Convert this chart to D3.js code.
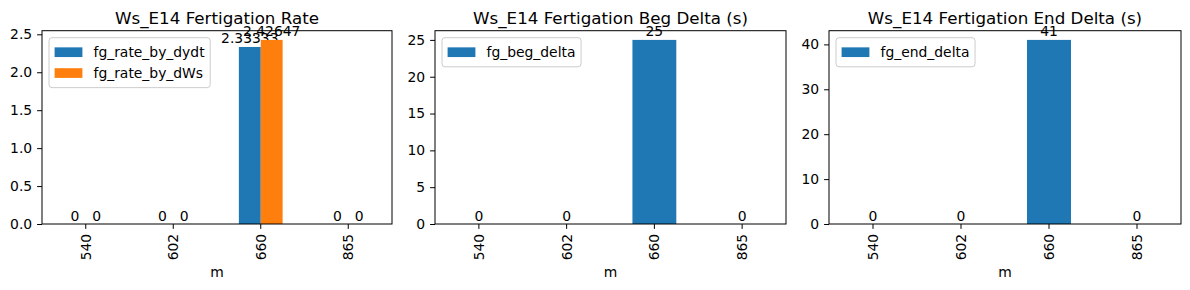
<!DOCTYPE html>
<html>
<head>
<meta charset="utf-8">
<script src="https://cdn.jsdelivr.net/npm/d3@7"></script>
<style>
  body { margin: 0; background: #fff; }
  svg { display: block; font-family: "DejaVu Sans", sans-serif; }
</style>
</head>
<body>
<div id="chart"></div>
<script>
const categories = ['540', '602', '660', '865'];
const fgRateByDydt = [0, 0, 2.33333, 0];
const fgRateByDWs = [0, 0, 2.42647, 0];
const fgBegDelta = [0, 0, 25, 0];
const fgEndDelta = [0, 0, 41, 0];
const rateTicks = [0, 0.5, 1.0, 1.5, 2.0, 2.5];
const begTicks = [0, 5, 10, 15, 20, 25];
const endTicks = [0, 10, 20, 30, 40];

const width = 1190;
const height = 290;
const fontSize = 13.9;
const colors = ['#1f77b4', '#ff7f0e'];

const panels = [
  {
    title: 'Ws_E14 Fertigation Rate',
    left: 42, right: 392,
    series: [
      { name: 'fg_rate_by_dydt', values: fgRateByDydt },
      { name: 'fg_rate_by_dWs', values: fgRateByDWs }
    ],
    ticks: rateTicks,
    tickFormat: d3.format('.1f')
  },
  {
    title: 'Ws_E14 Fertigation Beg Delta (s)',
    left: 435, right: 786,
    series: [{ name: 'fg_beg_delta', values: fgBegDelta }],
    ticks: begTicks,
    tickFormat: d3.format('d')
  },
  {
    title: 'Ws_E14 Fertigation End Delta (s)',
    left: 829, right: 1181,
    series: [{ name: 'fg_end_delta', values: fgEndDelta }],
    ticks: endTicks,
    tickFormat: d3.format('d')
  }
];

const plotTop = 30.7;
const plotBottom = 224;

const svg = d3.select('#chart')
  .append('svg')
  .attr('width', width)
  .attr('height', height);

const labelFmt = d3.format('.6~g');

panels.forEach((p) => {
  const maxVal = d3.max(p.series, (s) => d3.max(s.values));
  const x = d3.scaleBand()
    .domain(categories)
    .range([p.left, p.right])
    .paddingInner(0.5)
    .paddingOuter(0.25);
  const xSub = d3.scaleBand()
    .domain(p.series.map((s) => s.name))
    .range([0, x.bandwidth()]);
  const y = d3.scaleLinear()
    .domain([0, maxVal * 1.05])
    .range([plotBottom, plotTop]);

  const g = svg.append('g');

  p.series.forEach((s, si) => {
    g.selectAll(null)
      .data(s.values)
      .join('rect')
      .attr('x', (d, i) => x(categories[i]) + xSub(s.name))
      .attr('y', (d) => y(d))
      .attr('width', xSub.bandwidth())
      .attr('height', (d) => plotBottom - y(d))
      .attr('fill', colors[si]);

    g.selectAll(null)
      .data(s.values)
      .join('text')
      .attr('x', (d, i) => x(categories[i]) + xSub(s.name) + xSub.bandwidth() / 2)
      .attr('y', (d) => y(d) - 3.5)
      .attr('text-anchor', 'middle')
      .attr('font-size', fontSize)
      .attr('fill', '#000')
      .text((d) => labelFmt(d));
  });

  // frame
  g.append('rect')
    .attr('x', p.left)
    .attr('y', plotTop)
    .attr('width', p.right - p.left)
    .attr('height', plotBottom - plotTop)
    .attr('fill', 'none')
    .attr('stroke', '#000')
    .attr('stroke-width', 1);

  const xAxis = g.append('g')
    .attr('transform', `translate(0, ${plotBottom})`)
    .call(d3.axisBottom(x).tickSizeOuter(0).tickSize(4.9).tickPadding(4.9));
  xAxis.select('.domain').remove();
  xAxis.selectAll('text')
    .attr('font-size', fontSize)
    .attr('font-family', 'DejaVu Sans')
    .attr('fill', '#000')
    .attr('transform', 'rotate(-90)')
    .attr('x', -9.8)
    .attr('y', 0)
    .attr('dy', '0.35em')
    .style('text-anchor', 'end');

  const yAxis = g.append('g')
    .attr('transform', `translate(${p.left}, 0)`)
    .call(d3.axisLeft(y).tickValues(p.ticks).tickFormat(p.tickFormat).tickSizeOuter(0).tickSize(4.9).tickPadding(4.9));
  yAxis.select('.domain').remove();
  yAxis.selectAll('text')
    .attr('font-size', fontSize)
    .attr('font-family', 'DejaVu Sans')
    .attr('fill', '#000');

  g.append('text')
    .attr('x', (p.left + p.right) / 2)
    .attr('y', 272)
    .attr('dy', '0.35em')
    .attr('text-anchor', 'middle')
    .attr('font-size', fontSize)
    .text('m');

  g.append('text')
    .attr('x', (p.left + p.right) / 2)
    .attr('y', plotTop - 7)
    .attr('text-anchor', 'middle')
    .attr('font-size', 16.7)
    .text(p.title);

  // legend
  const pad = 5.6;
  const lx = p.left + 7;
  const ly = plotTop + 7;
  const rowH = fontSize * 1.5;
  const leg = g.append('g');
  const box = leg.append('rect')
    .attr('x', lx)
    .attr('y', ly)
    .attr('rx', 3)
    .attr('fill', '#fff')
    .attr('fill-opacity', 0.8)
    .attr('stroke', '#ccc');
  let maxW = 0;
  p.series.forEach((s, si) => {
    const cy = ly + pad + fontSize / 2 + 2 + si * rowH;
    leg.append('rect')
      .attr('x', lx + pad)
      .attr('y', cy - 4.9)
      .attr('width', 27.8)
      .attr('height', 9.7)
      .attr('fill', colors[si]);
    const t = leg.append('text')
      .attr('x', lx + pad + 27.8 + 11.1)
      .attr('y', cy)
      .attr('dy', '0.35em')
      .attr('font-size', fontSize)
      .text(s.name);
    maxW = Math.max(maxW, t.node().getComputedTextLength());
  });
  box.attr('width', pad * 2 + 27.8 + 11.1 + maxW)
    .attr('height', pad * 2 + fontSize + 2 + (p.series.length - 1) * rowH + 2);
});
</script>
</body>
</html>
